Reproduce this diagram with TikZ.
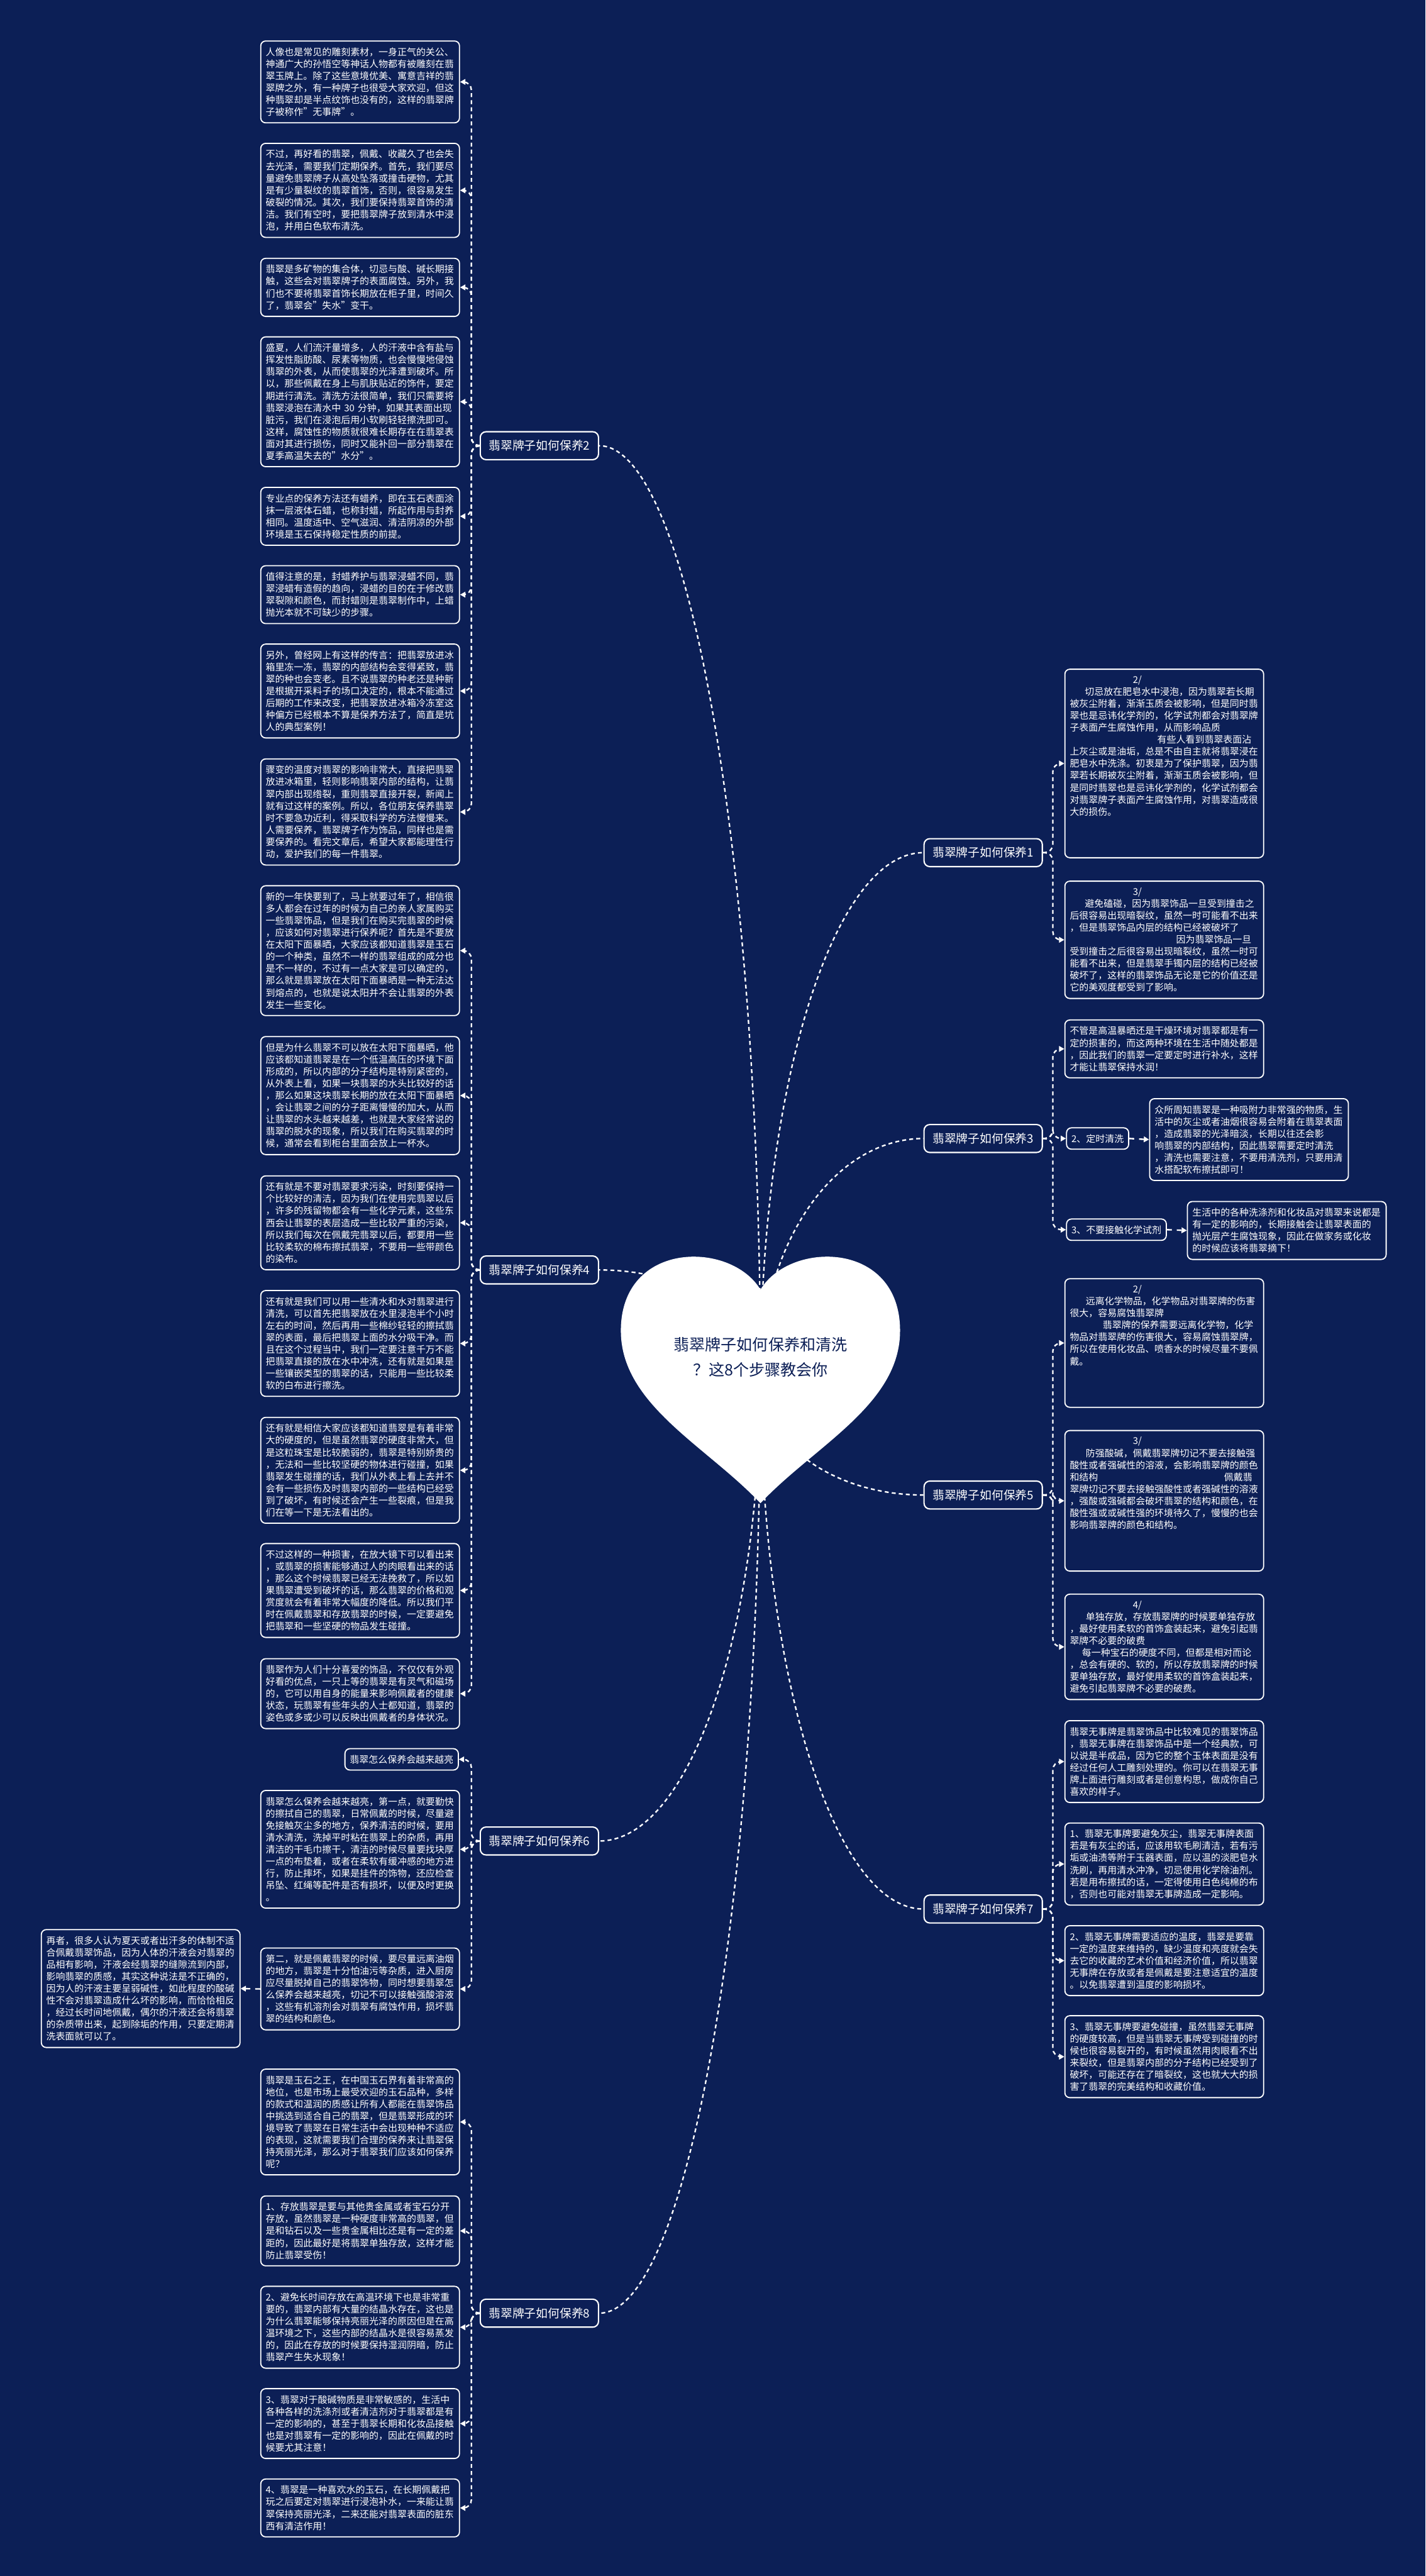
\documentclass[tikz,border=0pt]{standalone}
\usepackage{fontspec}
\setmainfont{Noto Sans CJK SC}
\usetikzlibrary{arrows.meta}
\definecolor{navy}{RGB}{12,31,86}

\begin{document}
\begin{tikzpicture}[x=1pt, y=-1pt, >={Triangle[length=3.2pt,width=3.4pt]},
    txt/.style={draw=white, line width=0.7pt, rounded corners=3pt, fill=navy, text=white, text width=115pt, inner xsep=3pt, inner ysep=4pt, align=left, anchor=north west, font=\fontsize{5.73pt}{7.3pt}\selectfont},
    tag/.style={draw=white, line width=0.7pt, rounded corners=3pt, fill=navy, text=white, inner xsep=3pt, inner ysep=0pt, minimum height=13pt, font=\fontsize{5.73pt}{7.3pt}\selectfont},
    topic/.style={draw=white, line width=0.8pt, rounded corners=3.5pt, fill=navy, text=white, minimum width=72pt, minimum height=17pt, inner sep=0pt, font=\fontsize{7.2pt}{8pt}\selectfont},
    conn/.style={white, line width=0.9pt, dash pattern=on 2.4pt off 1.9pt, rounded corners=5pt},
    jump/.style={white, line width=0.9pt, dash pattern=on 3pt off 3pt, ->}]
    \useasboundingbox (0,0) rectangle (868,1568);
    \fill[navy] (0,0) rectangle (868,1568);

    \node[topic, anchor=west] (t2) at (292,271.3) {翡翠牌子如何保养2};
    \node[topic, anchor=west] (t4) at (292,773) {翡翠牌子如何保养4};
    \node[topic, anchor=west] (t6) at (292,1120.6) {翡翠牌子如何保养6};
    \node[topic, anchor=west] (t8) at (292,1408) {翡翠牌子如何保养8};
    \node[topic, anchor=east] (t1) at (635,519) {翡翠牌子如何保养1};
    \node[topic, anchor=east] (t3) at (635,693) {翡翠牌子如何保养3};
    \node[topic, anchor=east] (t5) at (635,910) {翡翠牌子如何保养5};
    \node[topic, anchor=east] (t7) at (635,1162) {翡翠牌子如何保养7};

    \node[txt] (L1) at (158.4,24.6) {人像也是常见的雕刻素材，一身正气的关公、\\神通广大的孙悟空等神话人物都有被雕刻在翡\\翠玉牌上。除了这些意境优美、寓意吉祥的翡\\翠牌之外，有一种牌子也很受大家欢迎，但这\\种翡翠却是半点纹饰也没有的，这样的翡翠牌\\子被称作"无事牌"。};
    \node[txt] (L2) at (158.4,86.9) {不过，再好看的翡翠，佩戴、收藏久了也会失\\去光泽，需要我们定期保养。首先，我们要尽\\量避免翡翠牌子从高处坠落或撞击硬物，尤其\\是有少量裂纹的翡翠首饰，否则，很容易发生\\破裂的情况。其次，我们要保持翡翠首饰的清\\洁。我们有空时，要把翡翠牌子放到清水中浸\\泡，并用白色软布清洗。};
    \node[txt] (L3) at (158.4,156.9) {翡翠是多矿物的集合体，切忌与酸、碱长期接\\触，这些会对翡翠牌子的表面腐蚀。另外，我\\们也不要将翡翠首饰长期放在柜子里，时间久\\了，翡翠会"失水"变干。};
    \node[txt] (L4) at (158.4,204.7) {盛夏，人们流汗量增多，人的汗液中含有盐与\\挥发性脂肪酸、尿素等物质，也会慢慢地侵蚀\\翡翠的外表，从而使翡翠的光泽遭到破坏。所\\以，那些佩戴在身上与肌肤贴近的饰件，要定\\期进行清洗。清洗方法很简单，我们只需要将\\翡翠浸泡在清水中 30 分钟，如果其表面出现\\脏污，我们在浸泡后用小软刷轻轻擦洗即可。\\这样，腐蚀性的物质就很难长期存在在翡翠表\\面对其进行损伤，同时又能补回一部分翡翠在\\夏季高温失去的"水分"。};
    \node[txt] (L5) at (158.4,296.3) {专业点的保养方法还有蜡养，即在玉石表面涂\\抹一层液体石蜡，也称封蜡，所起作用与封养\\相同。温度适中、空气滋润、清洁阴凉的外部\\环境是玉石保持稳定性质的前提。};
    \node[txt] (L6) at (158.4,344) {值得注意的是，封蜡养护与翡翠浸蜡不同，翡\\翠浸蜡有造假的趋向，浸蜡的目的在于修改翡\\翠裂隙和颜色，而封蜡则是翡翠制作中，上蜡\\抛光本就不可缺少的步骤。};
    \node[txt] (L7) at (158.4,391.7) {另外，曾经网上有这样的传言：把翡翠放进冰\\箱里冻一冻，翡翠的内部结构会变得紧致，翡\\翠的种也会变老。且不说翡翠的种老还是种新\\是根据开采料子的场口决定的，根本不能通过\\后期的工作来改变，把翡翠放进冰箱冷冻室这\\种偏方已经根本不算是保养方法了，简直是坑\\人的典型案例！};
    \node[txt] (L8) at (158.4,461.6) {骤变的温度对翡翠的影响非常大，直接把翡翠\\放进冰箱里，轻则影响翡翠内部的结构，让翡\\翠内部出现绺裂，重则翡翠直接开裂，新闻上\\就有过这样的案例。所以，各位朋友保养翡翠\\时不要急功近利，得采取科学的方法慢慢来。\\人需要保养，翡翠牌子作为饰品，同样也是需\\要保养的。看完文章后，希望大家都能理性行\\动，爱护我们的每一件翡翠。};

    \node[txt] (L9) at (158.4,538.8) {新的一年快要到了，马上就要过年了，相信很\\多人都会在过年的时候为自己的亲人家属购买\\一些翡翠饰品，但是我们在购买完翡翠的时候\\，应该如何对翡翠进行保养呢？首先是不要放\\在太阳下面暴晒，大家应该都知道翡翠是玉石\\的一个种类，虽然不一样的翡翠组成的成分也\\是不一样的，不过有一点大家是可以确定的，\\那么就是翡翠放在太阳下面暴晒是一种无法达\\到熔点的，也就是说太阳并不会让翡翠的外表\\发生一些变化。};
    \node[txt] (L10) at (158.4,630.6) {但是为什么翡翠不可以放在太阳下面暴晒，他\\应该都知道翡翠是在一个低温高压的环境下面\\形成的，所以内部的分子结构是特别紧密的，\\从外表上看，如果一块翡翠的水头比较好的话\\，那么如果这块翡翠长期的放在太阳下面暴晒\\，会让翡翠之间的分子距离慢慢的加大，从而\\让翡翠的水头越来越差，也就是大家经常说的\\翡翠的脱水的现象，所以我们在购买翡翠的时\\候，通常会看到柜台里面会放上一杯水。};
    \node[txt] (L11) at (158.4,715.4) {还有就是不要对翡翠要求污染，时刻要保持一\\个比较好的清洁，因为我们在使用完翡翠以后\\，许多的残留物都会有一些化学元素，这些东\\西会让翡翠的表层造成一些比较严重的污染，\\所以我们每次在佩戴完翡翠以后，都要用一些\\比较柔软的棉布擦拭翡翠，不要用一些带颜色\\的染布。};
    \node[txt] (L12) at (158.4,785.2) {还有就是我们可以用一些清水和水对翡翠进行\\清洗，可以首先把翡翠放在水里浸泡半个小时\\左右的时间，然后再用一些棉纱轻轻的擦拭翡\\翠的表面，最后把翡翠上面的水分吸干净。而\\且在这个过程当中，我们一定要注意千万不能\\把翡翠直接的放在水中冲洗，还有就是如果是\\一些镶嵌类型的翡翠的话，只能用一些比较柔\\软的白布进行擦洗。};
    \node[txt] (L13) at (158.4,862.4) {还有就是相信大家应该都知道翡翠是有着非常\\大的硬度的，但是虽然翡翠的硬度非常大，但\\是这粒珠宝是比较脆弱的，翡翠是特别娇贵的\\，无法和一些比较坚硬的物体进行碰撞，如果\\翡翠发生碰撞的话，我们从外表上看上去并不\\会有一些损伤及时翡翠内部的一些结构已经受\\到了破坏，有时候还会产生一些裂痕，但是我\\们在等一下是无法看出的。};
    \node[txt] (L14) at (158.4,939.2) {不过这样的一种损害，在放大镜下可以看出来\\，或翡翠的损害能够通过人的肉眼看出来的话\\，那么这个时候翡翠已经无法挽救了，所以如\\果翡翠遭受到破坏的话，那么翡翠的价格和观\\赏度就会有着非常大幅度的降低。所以我们平\\时在佩戴翡翠和存放翡翠的时候，一定要避免\\把翡翠和一些坚硬的物品发生碰撞。};
    \node[txt] (L15) at (158.4,1009.3) {翡翠作为人们十分喜爱的饰品，不仅仅有外观\\好看的优点，一只上等的翡翠是有灵气和磁场\\的，它可以用自身的能量来影响佩戴者的健康\\状态，玩翡翠有些年头的人士都知道，翡翠的\\姿色或多或少可以反映出佩戴者的身体状况。};

    \node[tag, anchor=east] (L16) at (279.4,1070.9) {翡翠怎么保养会越来越亮};
    \node[txt] (L17) at (158.4,1089.5) {翡翠怎么保养会越来越亮，第一点，就要勤快\\的擦拭自己的翡翠，日常佩戴的时候，尽量避\\免接触灰尘多的地方，保养清洁的时候，要用\\清水清洗，洗掉平时粘在翡翠上的杂质，再用\\清洁的干毛巾擦干，清洁的时候尽量要找块厚\\一点的布垫着，或者在柔软有缓冲感的地方进\\行，防止摔坏，如果是挂件的饰物，还应检查\\吊坠、红绳等配件是否有损坏，以便及时更换\\。};
    \node[txt] (L18) at (158.4,1185.4) {第二，就是佩戴翡翠的时候，要尽量远离油烟\\的地方，翡翠是十分怕油污等杂质，进入厨房\\应尽量脱掉自己的翡翠饰物，同时想要翡翠怎\\么保养会越来越亮，切记不可以接触强酸溶液\\，这些有机溶剂会对翡翠有腐蚀作用，损坏翡\\翠的结构和颜色。};
    \node[txt] (FL) at (24.8,1174.2) {再者，很多人认为夏天或者出汗多的体制不适\\合佩戴翡翠饰品，因为人体的汗液会对翡翠的\\品相有影响，汗液会经翡翠的缝隙流到内部，\\影响翡翠的质感，其实这种说法是不正确的，\\因为人的汗液主要呈弱碱性，如此程度的酸碱\\性不会对翡翠造成什么坏的影响，而恰恰相反\\，经过长时间地佩戴，偶尔的汗液还会将翡翠\\的杂质带出来，起到除垢的作用，只要定期清\\洗表面就可以了。};

    \node[txt] (L19) at (158.4,1259.1) {翡翠是玉石之王，在中国玉石界有着非常高的\\地位，也是市场上最受欢迎的玉石品种，多样\\的款式和温润的质感让所有人都能在翡翠饰品\\中挑选到适合自己的翡翠，但是翡翠形成的环\\境导致了翡翠在日常生活中会出现种种不适应\\的表现，这就需要我们合理的保养来让翡翠保\\持亮丽光泽，那么对于翡翠我们应该如何保养\\呢？};
    \node[txt] (L20) at (158.4,1336.3) {1、存放翡翠是要与其他贵金属或者宝石分开\\存放，虽然翡翠是一种硬度非常高的翡翠，但\\是和钻石以及一些贵金属相比还是有一定的差\\距的，因此最好是将翡翠单独存放，这样才能\\防止翡翠受伤！};
    \node[txt] (L21) at (158.4,1391.3) {2、避免长时间存放在高温环境下也是非常重\\要的，翡翠内部有大量的结晶水存在，这也是\\为什么翡翠能够保持亮丽光泽的原因但是在高\\温环境之下，这些内部的结晶水是很容易蒸发\\的，因此在存放的时候要保持湿润阴暗，防止\\翡翠产生失水现象！};
    \node[txt] (L22) at (158.4,1453.6) {3、翡翠对于酸碱物质是非常敏感的，生活中\\各种各样的洗涤剂或者清洁剂对于翡翠都是有\\一定的影响的，甚至于翡翠长期和化妆品接触\\也是对翡翠有一定的影响的，因此在佩戴的时\\候要尤其注意！};
    \node[txt] (L23) at (158.4,1508.6) {4、翡翠是一种喜欢水的玉石，在长期佩戴把\\玩之后要定对翡翠进行浸泡补水，一来能让翡\\翠保持亮丽光泽，二来还能对翡翠表面的脏东\\西有清洁作用！};

    \node[txt] (R1a) at (648,407) {\hspace*{6.7em}2/\\\hspace*{1.6em}切忌放在肥皂水中浸泡，因为翡翠若长期\\被灰尘附着，渐渐玉质会被影响，但是同时翡\\翠也是忌讳化学剂的，化学试剂都会对翡翠牌\\子表面产生腐蚀作用，从而影响品质\\\hspace*{9.3em}有些人看到翡翠表面沾\\上灰尘或是油垢，总是不由自主就将翡翠浸在\\肥皂水中洗涤。初衷是为了保护翡翠，因为翡\\翠若长期被灰尘附着，渐渐玉质会被影响，但\\是同时翡翠也是忌讳化学剂的，化学试剂都会\\对翡翠牌子表面产生腐蚀作用，对翡翠造成很\\大的损伤。\\~\\~\\~};
    \node[txt] (R1b) at (648,536) {\hspace*{6.7em}3/\\\hspace*{1.6em}避免磕碰，因为翡翠饰品一旦受到撞击之\\后很容易出现暗裂纹，虽然一时可能看不出来\\，但是翡翠饰品内层的结构已经被破坏了\\\hspace*{11.3em}因为翡翠饰品一旦\\受到撞击之后很容易出现暗裂纹，虽然一时可\\能看不出来，但是翡翠手镯内层的结构已经被\\破坏了，这样的翡翠饰品无论是它的价值还是\\它的美观度都受到了影响。};

    \node[txt] (R3a) at (648,620.5) {不管是高温暴晒还是干燥环境对翡翠都是有一\\定的损害的，而这两种环境在生活中随处都是\\，因此我们的翡翠一定要定时进行补水，这样\\才能让翡翠保持水润！};
    \node[tag, anchor=west] (R3b) at (649,693) {2、定时清洗};
    \node[txt] (R3c) at (699.6,668.4) {众所周知翡翠是一种吸附力非常强的物质，生\\活中的灰尘或者油烟很容易会附着在翡翠表面\\，造成翡翠的光泽暗淡，长期以往还会影\\响翡翠的内部结构，因此翡翠需要定时清洗\\，清洗也需要注意，不要用清洗剂，只要用清\\水搭配软布擦拭即可！};
    \node[tag, anchor=west] (R3d) at (649,748.5) {3、不要接触化学试剂};
    \node[txt] (R3e) at (722.6,731) {生活中的各种洗涤剂和化妆品对翡翠来说都是\\有一定的影响的，长期接触会让翡翠表面的\\抛光层产生腐蚀现象，因此在做家务或化妆\\的时候应该将翡翠摘下！};

    \node[txt] (R5a) at (648,778) {\hspace*{6.7em}2/\\\hspace*{1.7em}远离化学物品，化学物品对翡翠牌的伤害\\很大，容易腐蚀翡翠牌\\\hspace*{3.5em}翡翠牌的保养需要远离化学物，化学\\物品对翡翠牌的伤害很大，容易腐蚀翡翠牌，\\所以在使用化妆品、喷香水的时候尽量不要佩\\戴。\\~\\~\\~};
    \node[txt] (R5b) at (648,870.4) {\hspace*{6.7em}3/\\\hspace*{1.7em}防强酸碱，佩戴翡翠牌切记不要去接触强\\酸性或者强碱性的溶液，会影响翡翠牌的颜色\\和结构\hspace*{13.4em}佩戴翡\\翠牌切记不要去接触强酸性或者强碱性的溶液\\，强酸或强碱都会破坏翡翠的结构和颜色，在\\酸性强或或碱性强的环境待久了，慢慢的也会\\影响翡翠牌的颜色和结构。\\~\\~\\~};
    \node[txt] (R5c) at (648,970) {\hspace*{6.7em}4/\\\hspace*{1.7em}单独存放，存放翡翠牌的时候要单独存放\\，最好使用柔软的首饰盒装起来，避免引起翡\\翠牌不必要的破费\\\hspace*{1.3em}每一种宝石的硬度不同，但都是相对而论\\，总会有硬的、软的，所以存放翡翠牌的时候\\要单独存放，最好使用柔软的首饰盒装起来，\\避免引起翡翠牌不必要的破费。};

    \node[txt] (R7a) at (648,1047) {翡翠无事牌是翡翠饰品中比较难见的翡翠饰品\\，翡翠无事牌在翡翠饰品中是一个经典款，可\\以说是半成品，因为它的整个玉体表面是没有\\经过任何人工雕刻处理的。你可以在翡翠无事\\牌上面进行雕刻或者是创意构思，做成你自己\\喜欢的样子。};
    \node[txt] (R7b) at (648,1109.3) {1、翡翠无事牌要避免灰尘，翡翠无事牌表面\\若是有灰尘的话，应该用软毛刷清洁，若有污\\垢或油渍等附于玉器表面，应以温的淡肥皂水\\洗刷，再用清水冲净，切忌使用化学除油剂。\\若是用布擦拭的话，一定得使用白色纯棉的布\\，否则也可能对翡翠无事牌造成一定影响。};
    \node[txt] (R7c) at (648,1171.8) {2、翡翠无事牌需要适应的温度，翡翠是要靠\\一定的温度来维持的，缺少温度和亮度就会失\\去它的收藏的艺术价值和经济价值，所以翡翠\\无事牌在存放或者是佩戴是要注意适宜的温度\\。以免翡翠遭到温度的影响损坏。};
    \node[txt] (R7d) at (648,1226.6) {3、翡翠无事牌要避免碰撞，虽然翡翠无事牌\\的硬度较高，但是当翡翠无事牌受到碰撞的时\\候也很容易裂开的，有时候虽然用肉眼看不出\\来裂纹，但是翡翠内部的分子结构已经受到了\\破坏，可能还存在了暗裂纹，这也就大大的损\\害了翡翠的完美结构和收藏价值。};

    \foreach \b in {L1,L2,L3,L4,L5,L6,L7,L8} \draw[conn, ->] (t2.west) -- ++(-5,0) |- (\b.east);
    \foreach \b in {L9,L10,L11,L12,L13,L14,L15} \draw[conn, ->] (t4.west) -- ++(-5,0) |- (\b.east);
    \foreach \b in {L16,L17,L18} \draw[conn, ->] (t6.west) -- ++(-5,0) |- (\b.east);
    \foreach \b in {L19,L20,L21,L22,L23} \draw[conn, ->] (t8.west) -- ++(-5,0) |- (\b.east);
    \foreach \b in {R1a,R1b} \draw[conn, ->] (t1.east) -- ++(6,0) |- (\b.west);
    \foreach \b in {R3a,R3b,R3d} \draw[conn, ->] (t3.east) -- ++(6,0) |- (\b.west);
    \foreach \b in {R5a,R5b,R5c} \draw[conn, ->] (t5.east) -- ++(6,0) |- (\b.west);
    \foreach \b in {R7a,R7b,R7c,R7d} \draw[conn, ->] (t7.east) -- ++(6,0) |- (\b.west);
    \draw[jump] (R3b.east) -- (R3c.west);
    \draw[jump] (R3d.east) -- (R3e.west);
    \draw[jump] (L18.west) -- (FL.east);

    \coordinate (hc) at (463,838);
    \draw[conn] (hc) .. controls +(0,-313) and +(55,0) .. (t2.east);
    \draw[conn] (hc) .. controls +(0,-36) and +(55,0) .. (t4.east);
    \draw[conn] (hc) .. controls +(0,156) and +(55,0) .. (t6.east);
    \draw[conn] (hc) .. controls +(0,314) and +(55,0) .. (t8.east);
    \draw[conn] (hc) .. controls +(0,-176) and +(-55,0) .. (t1.west);
    \draw[conn] (hc) .. controls +(0,-80) and +(-55,0) .. (t3.west);
    \draw[conn] (hc) .. controls +(0,40) and +(-55,0) .. (t5.west);
    \draw[conn] (hc) .. controls +(0,179) and +(-55,0) .. (t7.west);

    \fill[white] (463,785) .. controls (445,755) and (378,755) .. (378,810) .. controls (378,855) and (430,880) .. (463,915) .. controls (496,880) and (548,855) .. (548,810) .. controls (548,755) and (481,755) .. (463,785) -- cycle;
    \node[text=navy, align=center, font=\fontsize{9.6pt}{15.5pt}\selectfont] (title) at (463,826) {翡翠牌子如何保养和清洗\\？这8个步骤教会你};
\end{tikzpicture}
\end{document}
